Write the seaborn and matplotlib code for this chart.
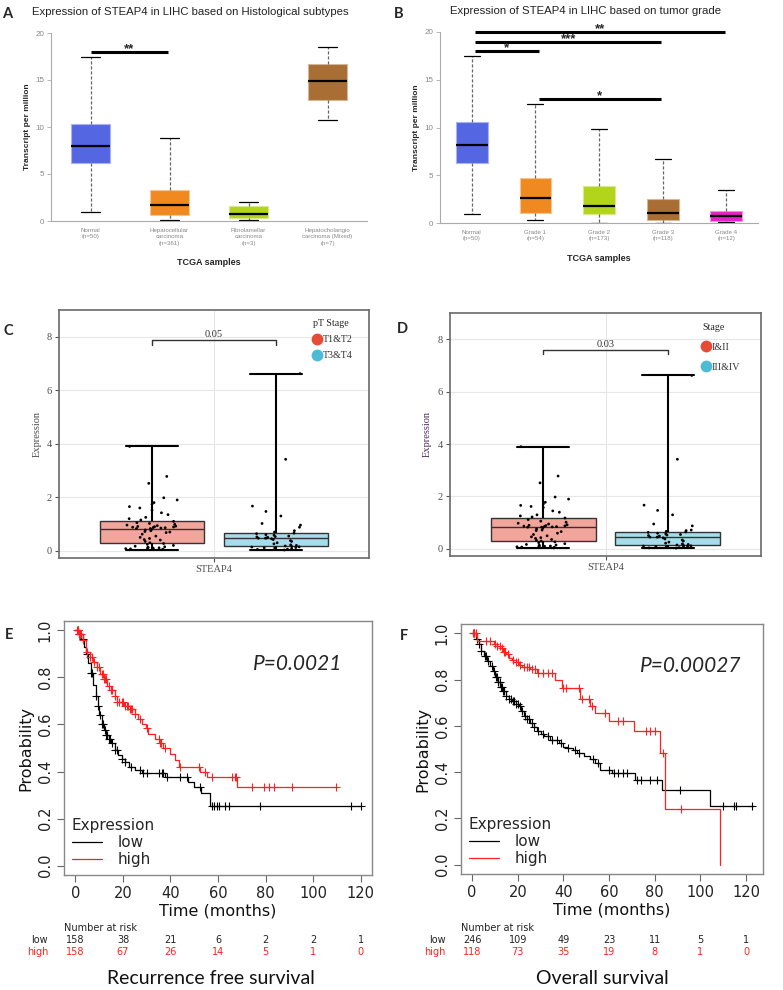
import numpy as np
import pandas as pd
import matplotlib
matplotlib.use('Agg')
import matplotlib.pyplot as plt
import matplotlib.transforms as mtrans
from matplotlib.colors import to_rgb
from matplotlib.lines import Line2D
import seaborn as sns

# ---------------- data ----------------
# A / B: five-number summaries (min, Q1, median, Q3, max) of TPM
hist_labels = ['Normal\n(n=50)', 'Hepatocellular\ncarcinoma\n(n=361)',
               'Fibrolamellar\ncarcinoma\n(n=3)', 'Hepatocholangio\ncarcinoma (Mixed)\n(n=7)']
hist_normal = [0.96, 6.18, 7.99, 10.34, 17.48]
hist_hcc = [0.08, 0.68, 1.65, 3.28, 8.78]
hist_fibro = [0.08, 0.28, 0.78, 1.63, 2.07]
hist_mixed = [10.77, 12.82, 14.88, 16.75, 18.5]
hist_colors = ['#5566E2', '#F08A20', '#B2D41A', '#A86E33']

grade_labels = ['Normal\n(n=50)', 'Grade 1\n(n=54)', 'Grade 2\n(n=173)', 'Grade 3\n(n=118)', 'Grade 4\n(n=12)']
grade_normal = [0.95, 6.33, 8.14, 10.54, 17.5]
grade_1 = [0.28, 1.04, 2.62, 4.72, 12.47]
grade_2 = [0.0, 0.95, 1.78, 3.84, 9.8]
grade_3 = [0.02, 0.35, 1.05, 2.55, 6.72]
grade_4 = [0.08, 0.18, 0.74, 1.22, 3.42]
grade_colors = ['#5566E2', '#F08A20', '#B2D41A', '#A86E33', '#E222C6']

# C: pT stage expression values
pt_low = [3.9, 2.78, 2.52, 1.98, 1.9, 1.8, 1.74, 1.65, 1.6, 1.52, 1.42, 1.35, 1.25, 1.2, 1.15,
          1.1, 1.05, 1.02, 0.99, 0.96, 0.94, 0.92, 0.91, 0.9, 0.89, 0.88, 0.87, 0.86, 0.85,
          0.83, 0.83,
          0.8, 0.78, 0.75, 0.72, 0.7, 0.68, 0.62, 0.55, 0.5, 0.46, 0.42, 0.4, 0.35, 0.3,
          0.27, 0.24, 0.2, 0.17, 0.15, 0.13, 0.12, 0.11, 0.1, 0.09, 0.08, 0.07, 0.06, 0.05, 0.04]
pt_high = [6.62, 3.42, 1.67, 1.47, 1.3, 1.02, 0.96, 0.88, 0.75, 0.7,
           0.66, 0.64, 0.6, 0.58, 0.55, 0.53, 0.52, 0.5, 0.48,
           0.47, 0.47,
           0.45, 0.42, 0.38, 0.35, 0.3, 0.26, 0.22, 0.2, 0.18,
           0.16, 0.15, 0.14, 0.12, 0.11, 0.1, 0.08, 0.06, 0.05, 0.03]
# D: stage expression values
st_low = [3.9, 2.78, 2.52, 1.98, 1.9, 1.78, 1.72, 1.66, 1.62, 1.58, 1.45, 1.4, 1.3, 1.26, 1.22,
          1.18, 1.12, 1.06, 1.02, 0.98, 0.95, 0.92, 0.9, 0.89, 0.88, 0.87, 0.86, 0.85, 0.84,
          0.83, 0.83,
          0.8, 0.76, 0.72, 0.7, 0.66, 0.6, 0.55, 0.5, 0.46, 0.43, 0.4, 0.36, 0.33, 0.3,
          0.27, 0.24, 0.2, 0.17, 0.15, 0.14, 0.12, 0.11, 0.1, 0.09, 0.08, 0.07, 0.06, 0.05, 0.04]
st_high = [6.62, 3.42, 1.67, 1.47, 1.3, 0.95, 0.88, 0.72, 0.7, 0.67,
           0.65, 0.63, 0.6, 0.57, 0.55, 0.53, 0.51, 0.49, 0.46,
           0.45, 0.45,
           0.42, 0.38, 0.34, 0.3, 0.26, 0.22, 0.19, 0.17, 0.15,
           0.13, 0.12, 0.11, 0.1, 0.09, 0.08, 0.07, 0.05, 0.04, 0.03]
stage_fill = ['#F2A59A', '#A6DDEA']
stage_dot = ['#E64B35', '#4DBBD5']

# E: recurrence free survival (step times / survival, censor times)
rfs_low_t = [0, 1.5, 2.5, 3.5, 4.5, 5.5, 6.5, 7.5, 8.5, 9.5, 10, 11, 12, 13, 14, 15, 16.5, 18,
             19.5, 21, 22.5, 25, 28, 37.5, 47.5, 50, 53, 56.5, 120]
rfs_low_s = [1.0, 0.985, 0.965, 0.93, 0.9, 0.86, 0.82, 0.77, 0.72, 0.68, 0.64, 0.6, 0.575, 0.555,
             0.54, 0.52, 0.49, 0.47, 0.455, 0.44, 0.42, 0.405, 0.393, 0.375, 0.355, 0.335, 0.31,
             0.255, 0.255]
rfs_low_c = [1, 1.5, 2, 3, 5, 6.5, 7, 8.5, 9.5, 10.5, 11, 11.5, 12.5, 13, 13.5, 14, 14.5, 15.5,
             16.5, 17.5, 19.5, 21, 23.5, 27, 28.5, 30, 35, 36.5, 37, 38.5, 44, 47, 52.5, 57.5,
             58.5, 59.5, 60.5, 63, 64.5, 77.5, 116, 120]
rfs_high_t = [0, 1.5, 3, 4.5, 6, 7.5, 9, 10.5, 12, 13.5, 15, 16.5, 17.5, 20.5, 23, 25, 26.5, 28,
              29.5, 30.5, 33.5, 35.5, 37, 40, 42, 43.5, 52.5, 55.5, 68.2, 109.7]
rfs_high_s = [1.0, 0.985, 0.96, 0.91, 0.885, 0.865, 0.845, 0.815, 0.795, 0.765, 0.745, 0.72,
              0.695, 0.68, 0.665, 0.645, 0.625, 0.6, 0.585, 0.56, 0.54, 0.52, 0.5, 0.475, 0.45,
              0.42, 0.4, 0.375, 0.336, 0.336]
rfs_high_c = [0.5, 1, 1.5, 2, 2.5, 3, 5, 6, 7, 8, 9, 10, 11, 11.5, 12, 12.5, 13, 14, 15, 15.5,
              16.5, 17.5, 18.5, 19.5, 20, 21, 21.5, 22, 23, 23.5, 24, 25, 27, 30, 35, 35.5, 36,
              37.5, 44, 52, 54.5, 57.5, 66, 67, 67.5, 74.5, 79.5, 81.5, 83.5, 91, 109.7]

# F: overall survival
os_low_t = [0, 1.5, 2.9, 4, 5.1, 6.5, 8, 9, 10.2, 11.3, 12.4, 13.5, 14.6, 16, 17.5, 19, 20.4,
            21.5, 22.6, 24, 25.5, 27, 28.4, 30, 31.3, 34.3, 37.9, 40, 41.5, 44, 45.9, 48.8,
            51.7, 54, 56.1, 61.2, 71.4, 83.1, 104.2, 123]
os_low_s = [1.0, 0.974, 0.952, 0.925, 0.9, 0.88, 0.86, 0.835, 0.81, 0.79, 0.77, 0.75, 0.73,
            0.718, 0.707, 0.695, 0.685, 0.665, 0.642, 0.628, 0.613, 0.595, 0.577, 0.565, 0.556,
            0.54, 0.525, 0.51, 0.505, 0.495, 0.483, 0.469, 0.455, 0.44, 0.41, 0.397, 0.368,
            0.322, 0.255, 0.255]
os_low_c = [1, 2, 3, 4, 5.5, 6, 7, 8.5, 9.5, 10.5, 11, 11.5, 12, 12.5, 13, 13.5, 14, 15, 16, 17,
            18, 18.5, 19, 20, 21, 22, 23, 24, 25, 26, 27, 29, 31, 33, 35, 37, 39, 42, 45, 47,
            53, 55, 60, 62, 64, 66, 68, 72, 74, 78, 81, 91, 110, 114.5, 115.5, 122.5]
os_high_t = [0, 1.9, 9.5, 10.9, 12.4, 13.5, 14.6, 16, 17.5, 19, 20.5, 22, 25.5, 28.4, 36.4,
             39.4, 47.4, 51.7, 53.9, 59.8, 70.7, 82.4, 84.5, 108.6]
os_high_s = [1.0, 0.968, 0.955, 0.945, 0.935, 0.92, 0.91, 0.895, 0.885, 0.875, 0.865, 0.855,
             0.844, 0.827, 0.8, 0.762, 0.714, 0.685, 0.657, 0.62, 0.577, 0.483, 0.241, 0.0]
os_high_c = [0.5, 1, 1.5, 6, 8, 10, 11, 12, 13, 14, 14.5, 15.5, 18, 19, 20, 21, 22.5, 24, 25,
             26, 27.5, 29, 31, 33, 35, 40, 41, 47, 48, 51, 52.5, 58, 64, 66, 76, 78, 80, 83.8,
             91.5]

risk_times = [0, 20, 40, 60, 80, 100, 120]
rfs_risk_low = [158, 38, 21, 6, 2, 2, 1]
rfs_risk_high = [158, 67, 26, 14, 5, 1, 0]
os_risk_low = [246, 109, 49, 23, 11, 5, 1]
os_risk_high = [118, 73, 35, 19, 8, 1, 0]

KM_RED = '#FF2020'

# ---------------- figure ----------------
sns.set_style('white')
plt.rcParams['font.family'] = ['DejaVu Sans']

W, H = 783, 990
fig = plt.figure(figsize=(W / 100, H / 100), dpi=100)


def rect(l, t, r, b):
    return [l / W, 1 - b / H, (r - l) / W, (b - t) / H]


def tcga_panel(ax, labels, stats, colors, bars):
    df = pd.DataFrame({'grp': np.repeat(labels, 5), 'tpm': np.concatenate(stats)})
    sns.boxplot(data=df, x='grp', y='tpm', hue='grp', palette=colors, saturation=1,
                width=0.5, whis=(0, 100), linewidth=0.8, legend=False, ax=ax,
                medianprops=dict(color='black', linewidth=1.6),
                whiskerprops=dict(color='#666666', linestyle=(0, (2.5, 1.5)), linewidth=0.9),
                capprops=dict(color='black', linewidth=0.9))
    for patch, c in zip(ax.patches, colors):
        patch.set_edgecolor(np.array(to_rgb(c)) * 0.5 + 0.5)
    ax.set_xlim(-0.5, len(labels) - 0.5)
    ax.set_ylim(0, 20)
    ax.set_yticks([0, 5, 10, 15, 20])
    for s in ['top', 'right']:
        ax.spines[s].set_visible(False)
    for s in ['left', 'bottom']:
        ax.spines[s].set_color('#aaaaaa')
        ax.spines[s].set_linewidth(0.8)
    ax.tick_params(axis='y', length=3, width=0.6, color='#aaaaaa', labelcolor='#888888',
                   labelsize=5.8, pad=2, left=True)
    ax.tick_params(axis='x', length=0, labelcolor='#888888', labelsize=4.4, pad=5)
    for lab in ax.get_xticklabels():
        lab.set_family('Liberation Sans')
        lab.set_linespacing(1.35)
    for lab in ax.get_yticklabels():
        lab.set_family('Liberation Sans')
    ax.set_xlabel('TCGA samples', fontsize=6.5, fontweight='bold', family='Liberation Sans',
                  labelpad=9)
    ax.set_ylabel('Transcript per million', fontsize=6, fontweight='bold',
                  family='Liberation Sans', labelpad=3)
    for i, j, y, stars in bars:
        ax.plot([i, j], [y, y], color='black', lw=2.2, clip_on=False, solid_capstyle='butt')
        ax.text((i + j) / 2, y - 0.02, stars, ha='center', va='baseline', fontsize=9.5,
                fontweight='bold', family='Liberation Sans', clip_on=False)


axA = fig.add_axes(rect(51, 33, 367, 221))
tcga_panel(axA, hist_labels, [hist_normal, hist_hcc, hist_fibro, hist_mixed], hist_colors,
           [(0.0, 0.98, 18.0, '**')])
fig.text(32 / W, 1 - 12 / H, 'Expression of STEAP4 in LIHC based on Histological subtypes',
         ha='left', va='center', fontsize=8.2, family='Liberation Sans', color='#222222')

axB = fig.add_axes(rect(440, 32, 758, 223))
tcga_panel(axB, grade_labels, [grade_normal, grade_1, grade_2, grade_3, grade_4], grade_colors,
           [(0.05, 1.05, 18.0, '*'), (0.05, 2.98, 18.95, '***'),
            (0.05, 3.98, 19.95, '**'), (1.05, 2.98, 12.95, '*')])
fig.text(450 / W, 1 - 11 / H, 'Expression of STEAP4 in LIHC based on tumor grade',
         ha='left', va='center', fontsize=8.2, family='Liberation Sans', color='#222222')


def stage_panel(ax, groups, a, b, legend_title, pval, ybr, ylab_color, leg_anchor, leg_space):
    df = pd.DataFrame({'gene': 'STEAP4',
                       'grp': [groups[0]] * len(a) + [groups[1]] * len(b),
                       'val': a + b})
    sns.boxplot(data=df, x='gene', y='val', hue='grp', hue_order=groups, palette=stage_fill,
                saturation=1, width=0.8, gap=0.16, whis=(0, 100), linecolor='#333333',
                linewidth=1.0, fliersize=0, legend=False, ax=ax,
                whiskerprops=dict(color='black', linewidth=1.5),
                capprops=dict(color='black', linewidth=1.5),
                medianprops=dict(color='#333333', linewidth=1.0))
    np.random.seed(7)
    sns.stripplot(data=df, x='gene', y='val', hue='grp', hue_order=groups,
                  palette=['black', 'black'], dodge=True, jitter=0.17, size=2.0,
                  legend=False, ax=ax, zorder=5)
    ax.set_xlim(-0.5, 0.5)
    ax.set_ylim(-0.27, 9.0)
    ax.set_yticks([0, 2, 4, 6, 8])
    ax.grid(True, color='#e6e6e6', lw=0.8)
    ax.set_axisbelow(True)
    for s in ax.spines.values():
        s.set_visible(True)
        s.set_color('#6a6a6a')
        s.set_linewidth(1.2)
    ax.tick_params(length=3, width=0.8, color='#555555', labelcolor='#4d4d4d', labelsize=7.5,
                   left=True, bottom=True, pad=2)
    for lab in ax.get_xticklabels() + ax.get_yticklabels():
        lab.set_family('Liberation Serif')
    ax.set_xlabel('')
    ax.set_ylabel('Expression', family='Liberation Serif', fontsize=7.5, color=ylab_color)
    ax.plot([-0.2, -0.2, 0.2, 0.2], [ybr - 0.16, ybr, ybr, ybr - 0.16], color='#333333', lw=1)
    ax.text(0, ybr + 0.04, pval, ha='center', va='bottom', family='Liberation Serif',
            fontsize=7.5, color='#333333')
    handles = [Line2D([], [], ls='', marker='o', ms=8.5, mfc=c, mec='none', label=g)
               for c, g in zip(stage_dot, groups)]
    leg = ax.legend(handles=handles, title=legend_title, loc='upper left',
                    bbox_to_anchor=leg_anchor, frameon=False, handlelength=0.8,
                    handletextpad=0.15, borderpad=0, borderaxespad=0, labelspacing=leg_space,
                    alignment='left', prop={'family': 'Liberation Serif', 'size': 7.2},
                    title_fontproperties={'family': 'Liberation Serif', 'size': 7.2})
    for t in leg.get_texts():
        t.set_color('#333333')


axC = fig.add_axes(rect(59, 310, 369, 558))
stage_panel(axC, ['T1&T2', 'T3&T4'], pt_low, pt_high, 'pT Stage', '0.05', 7.86, '#4d4d4d',
            ((313 - 59) / 310, 1 - (319 - 310) / 248), 0.72)

axD = fig.add_axes(rect(450, 313, 761, 556))
stage_panel(axD, ['I&II', 'III&IV'], st_low, st_high, 'Stage', '0.03', 7.6, '#4a2b5a',
            ((702 - 450) / 311, 1 - (323 - 313) / 243), 1.1)


def km_panel(ax, curves, pval, risk_low, risk_high, title, title_x, title_y):
    for t, s, c, col in curves:
        sns.lineplot(x=t, y=s, drawstyle='steps-post', color=col, linewidth=0.9,
                     estimator=None, ax=ax)
        cy = np.array(s)[np.searchsorted(t, c, side='right') - 1]
        ax.plot(c, cy, ls='none', marker='+', ms=6, mew=0.8, color=col)
    ax.set_xlim(-4.8, 124.8)
    ax.set_ylim(-0.04, 1.04)
    ax.set_xticks(risk_times)
    ax.set_yticks([0, 0.2, 0.4, 0.6, 0.8, 1.0])
    ax.set_yticklabels(['0.0', '0.2', '0.4', '0.6', '0.8', '1.0'], rotation=90, va='center')
    for s in ax.spines.values():
        s.set_visible(True)
        s.set_color('#888888')
        s.set_linewidth(1.0)
    ax.tick_params(length=5, width=0.8, color='#666666', labelcolor='#222222', labelsize=10.5,
                   left=True, bottom=True, pad=3)
    ax.set_xlabel('Time (months)', fontsize=11.5, color='#111111', labelpad=2)
    ax.set_ylabel('Probability', fontsize=11.5, color='#111111', labelpad=3)
    ax.text(0.76, 0.83, pval, transform=ax.transAxes, ha='center', va='center',
            fontsize=15, style='italic', family='Lato')
    handles = [Line2D([], [], color='black', lw=0.9, label='low'),
               Line2D([], [], color=KM_RED, lw=0.9, label='high')]
    ax.legend(handles=handles, title='Expression', loc='lower left',
              bbox_to_anchor=(0.025, 0.03), frameon=False, fontsize=11, title_fontsize=11,
              handlelength=2.0, handletextpad=1.0, labelspacing=0.15, alignment='left',
              borderaxespad=0, borderpad=0)
    tr = mtrans.blended_transform_factory(ax.transData, fig.transFigure)
    x0 = ax.get_xlim()[0]
    ax.text(x0, 1 - 928 / H, 'Number at risk', transform=tr, ha='left', va='center',
            fontsize=7, color='#222222')
    ax.text(-11.5, 1 - 940 / H, 'low', transform=tr, ha='right', va='center', fontsize=7,
            color='#222222')
    ax.text(-11.5, 1 - 952 / H, 'high', transform=tr, ha='right', va='center', fontsize=7,
            color=KM_RED)
    for tt, nl, nh in zip(risk_times, risk_low, risk_high):
        ax.text(tt, 1 - 940 / H, str(nl), transform=tr, ha='center', va='center', fontsize=7,
                color='#222222')
        ax.text(tt, 1 - 952 / H, str(nh), transform=tr, ha='center', va='center', fontsize=7,
                color=KM_RED)
    fig.text(title_x / W, 1 - title_y / H, title, ha='center', va='baseline', fontsize=14,
             family='Lato', color='#111111')


axE = fig.add_axes(rect(64, 621, 372, 875))
km_panel(axE, [(rfs_low_t, rfs_low_s, rfs_low_c, 'black'),
               (rfs_high_t, rfs_high_s, rfs_high_c, KM_RED)],
         'P=0.0021', rfs_risk_low, rfs_risk_high, 'Recurrence free survival', 211, 984)

axF = fig.add_axes(rect(461, 624, 763, 874))
km_panel(axF, [(os_low_t, os_low_s, os_low_c, 'black'),
               (os_high_t, os_high_s, os_high_c, KM_RED)],
         'P=0.00027', os_risk_low, os_risk_high, 'Overall survival', 602, 984)
axF.set_xlim(-4.9, 127.4)

for letter, x, y in [('A', 2, 7), ('B', 394, 7), ('C', 3, 324), ('D', 397, 322),
                     ('E', 5, 628), ('F', 400, 629)]:
    fig.text(x / W, 1 - y / H, letter, ha='left', va='top', fontsize=10.5,
             fontweight='bold', family='Lato')

fig.savefig('out.png', dpi=100)
